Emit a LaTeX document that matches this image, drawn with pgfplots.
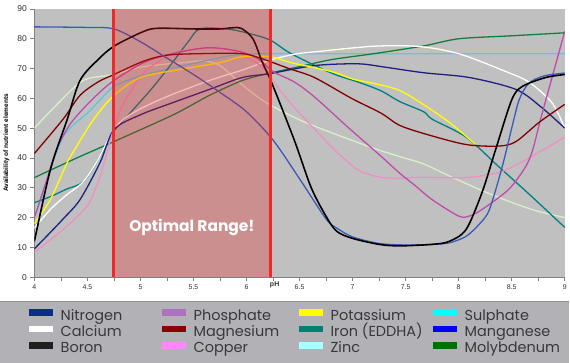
\documentclass[border=0pt]{standalone}
\usepackage{fontspec}
\setmainfont{Liberation Sans}
\newfontfamily\poppins{Poppins}
\usepackage{pgfplots}
\pgfplotsset{compat=1.18}
\definecolor{plotgray}{HTML}{C0C0C0}
\definecolor{overlayred}{HTML}{E82020}
\definecolor{redline}{HTML}{F02828}
\definecolor{axisgray}{HTML}{808080}
\definecolor{legbg}{HTML}{B2B2B6}
\definecolor{legborder}{HTML}{909090}
\definecolor{legtext}{HTML}{383838}
\definecolor{ticktext}{HTML}{303030}
% line colours
\definecolor{cMn}{HTML}{3A5BB5}
\definecolor{cN}{HTML}{1F2080}
\definecolor{cCa}{HTML}{FFFFFF}
\definecolor{cB}{HTML}{000000}
\definecolor{cP}{HTML}{C04CAA}
\definecolor{cMg}{HTML}{800000}
\definecolor{cCu}{HTML}{F090C0}
\definecolor{cK}{HTML}{FFFF00}
\definecolor{cFe}{HTML}{008080}
\definecolor{cZn}{HTML}{D8F0C8}
\definecolor{cS}{HTML}{60C8DC}
\definecolor{cMo}{HTML}{108040}
% legend colours
\definecolor{lN}{HTML}{0A2D8C}
\definecolor{lCa}{HTML}{FFFFFF}
\definecolor{lB}{HTML}{202020}
\definecolor{lP}{HTML}{B070C0}
\definecolor{lMg}{HTML}{8B0000}
\definecolor{lCu}{HTML}{FF88FF}
\definecolor{lK}{HTML}{FFFF00}
\definecolor{lFe}{HTML}{008070}
\definecolor{lZn}{HTML}{AAFFFF}
\definecolor{lS}{HTML}{00FFFF}
\definecolor{lMn}{HTML}{0000FF}
\definecolor{lMo}{HTML}{007000}
\newcommand{\legtxt}[2]{\makebox[#1][l]{\rule[-4.5bp]{0pt}{17.5bp}\hspace{8bp}\smash{#2}}}
\begin{document}
\begin{tikzpicture}
\fill[white] (0,0) rectangle (570bp,364bp);
\fill[legbg] (0,0) rectangle (570bp,62bp);
\draw[legborder, line width=1bp] (0,61.5bp) -- (570bp,61.5bp);
\begin{axis}[
  at={(34bp,86bp)}, anchor=south west,
  scale only axis, width=532bp, height=269bp,
  xmin=4, xmax=9, ymin=0, ymax=90,
  axis lines*=left,
  axis line style={draw=axisgray, line width=0.8bp},
  axis background/.style={fill=plotgray},
  xtick={4,4.5,...,9}, minor xtick={4.25,4.75,...,8.75},
  ytick={0,10,...,90},
  tick align=outside,
  major tick length=4bp, minor tick length=4bp,
  tick style={draw=axisgray, line width=0.6bp},
  /pgf/number format/assume math mode=true,
  xticklabel style={font=\fontsize{7bp}{8bp}\selectfont, text=ticktext},
  yticklabel style={font=\fontsize{8.5bp}{10bp}\selectfont, text=ticktext},
  xlabel={pH}, ylabel={Availability of nutrient elements},
  every axis x label/.style={at={(axis description cs:0.453,-0.03)}, anchor=center, font=\bfseries\fontsize{7bp}{8bp}\selectfont, text=ticktext},
  every axis y label/.style={at={(axis description cs:-0.0526,0.5)}, rotate=90, anchor=center, font=\bfseries\fontsize{6.5bp}{8bp}\selectfont, text=black},
  ln/.style={smooth, tension=0.5, line width=1.3bp, forget plot},
  legend columns=4,
  legend cell align=left,
  legend image code/.code={\fill[#1] (0bp,-0.6bp) rectangle (23bp,4.6bp);},
  legend style={draw=none, fill=none, inner sep=0pt, outer sep=0pt,
    row sep=2bp,
    nodes={inner sep=0pt},
    font=\poppins\fontsize{14.5bp}{17bp}\selectfont, text=legtext,
    at={(axis description cs:-0.0094,-0.1115)}, anchor=north west},
]
% Zinc (pale green)
\addplot[ln, cZn] coordinates {(4,50)(4.2,57.5)(4.46,66)(4.75,68)(5.0,70.5)(5.4,72)(5.6,72.5)(5.75,71)(5.96,64.5)(6.19,58.5)(6.55,52)(7.14,44)(7.44,40.5)(7.67,38)(7.91,34)(8.29,28)(8.69,22.7)(9,20)};
% Sulphate (cyan)
\addplot[ln, cS] coordinates {(4,20)(4.08,28)(4.15,36)(4.27,47)(4.38,51.5)(4.5,55)(4.62,59.5)(4.75,64)(5.0,67.5)(5.28,70)(5.6,72.5)(5.9,74.6)(6.25,75)(6.8,75)(7.5,75)(8.2,75)(9,75)};
% Molybdenum (green)
\addplot[ln, cMo] coordinates {(4,33.4)(4.4,40)(4.75,45.5)(5.31,54.5)(5.65,61)(5.96,66)(6.2,68.3)(6.48,70.5)(6.8,73)(7.2,75)(7.67,77.6)(8.0,80)(8.5,81)(9,82)};
% Iron (teal)
\addplot[ln, cFe] coordinates {(4,25)(4.15,27)(4.3,29.5)(4.46,32)(4.6,39.5)(4.75,49)(4.9,55)(5.1,63)(5.28,71)(5.45,79)(5.56,83.3)(5.81,83.3)(6.0,82)(6.22,79.6)(6.42,75)(6.8,68.5)(7.05,65.5)(7.27,62.5)(7.44,59)(7.67,55.5)(7.75,53)(8.07,47)(8.38,37)(8.69,27)(9,16.7)};
% Calcium (white)
\addplot[ln, cCa] coordinates {(4,16.5)(4.15,22.7)(4.3,27.5)(4.46,32)(4.6,39.5)(4.75,49.5)(4.9,54.5)(5.21,60)(5.65,66)(5.96,69.5)(6.22,72.8)(6.45,74.8)(6.64,75.6)(7.2,77.5)(7.63,77.4)(8.0,75)(8.41,69.5)(8.66,65.5)(8.88,58.5)(9,50)};
% Nitrogen (navy)
\addplot[ln, cN] coordinates {(4,9.5)(4.15,15)(4.27,19.5)(4.43,26)(4.62,38.5)(4.75,49.5)(5.0,54.5)(5.3,58.5)(5.65,63)(5.96,67)(6.22,68.3)(6.64,71)(7.05,71.6)(7.3,70.5)(7.67,68.6)(8.1,67)(8.54,63)(8.78,57)(9,50)};
% Copper (pink)
\addplot[ln, cCu] coordinates {(4,8.3)(4.27,16)(4.5,24)(4.62,34)(4.75,50)(4.85,59)(5.03,68.5)(5.2,73)(5.34,75.5)(5.55,76.5)(5.75,76.5)(5.9,75.5)(6.15,70.5)(6.31,63)(6.45,57)(6.58,52)(6.7,47.5)(6.85,42)(7.05,36)(7.2,34)(7.37,33.2)(7.67,33.5)(8.07,33.4)(8.3,34.5)(8.45,36)(8.69,40.5)(9,47)};
% Potassium (yellow)
\addplot[ln, cK] coordinates {(4,18)(4.15,26)(4.31,38.5)(4.4,44)(4.56,53)(4.75,61)(5.0,67)(5.34,69.5)(5.75,72)(5.96,74)(6.22,74)(6.42,72)(6.8,69)(7.0,66.5)(7.2,65)(7.42,63)(7.6,59.5)(7.91,52)(8.16,44.5)};
% Phosphate (magenta)
\addplot[ln, cP] coordinates {(4,20)(4.12,33)(4.21,43)(4.33,51)(4.46,56.5)(4.6,61.5)(4.75,66)(5.03,72)(5.3,75)(5.63,77)(5.9,76)(6.1,73.5)(6.25,69)(6.45,65.5)(6.64,60.5)(6.95,50.5)(7.27,40.5)(7.44,35)(7.58,31)(7.75,26)(8.0,20.5)(8.1,20.5)(8.22,22.7)(8.47,29.4)(8.63,37)(8.7,43)(8.78,54)(9,82.5)};
% Magnesium (dark red)
\addplot[ln, cMg] coordinates {(4,41.5)(4.27,53)(4.43,61)(4.6,65.5)(4.75,68)(5.03,72.5)(5.25,74.5)(5.56,75)(5.96,75)(6.17,73)(6.4,70)(6.64,67)(6.99,60)(7.27,55)(7.44,51)(7.69,48)(8.07,44.5)(8.38,44)(8.54,45.5)(8.76,52)(9,58)};
% Manganese (blue)
\addplot[ln, cMn] coordinates {(4,84)(4.5,83.8)(4.75,83.3)(5.0,79)(5.25,73.5)(5.5,68)(5.75,62)(6.0,55.5)(6.25,46)(6.5,33)(6.75,19.5)(6.85,16.5)(7.0,13.5)(7.25,11.3)(7.5,10.8)(7.75,11)(7.91,11.5)(8.07,13.7)(8.2,18)(8.29,22.7)(8.41,37)(8.5,50)(8.57,59.5)(8.66,65)(8.8,67.5)(9,68.5)};
% Boron (black)
\addplot[ln, cB, line width=1.6bp] coordinates {(4,12)(4.15,36)(4.31,53)(4.43,66)(4.6,73)(4.75,77.5)(5.0,82)(5.15,83.5)(5.5,83.3)(5.75,83.3)(5.87,83.7)(5.95,83.5)(6.06,80)(6.15,72)(6.24,65)(6.45,46)(6.61,30)(6.75,20.4)(6.85,15.4)(7.0,13)(7.25,11)(7.44,10.5)(7.75,11)(7.91,12)(8.07,16)(8.22,28.4)(8.35,43)(8.5,59.5)(8.6,64)(8.82,67)(9,68)};
% optimal range overlay
\addplot[draw=none, fill=overlayred, fill opacity=0.3, forget plot] coordinates {(4.745,90)(6.225,90)} \closedcycle;
\addplot[draw=redline, line width=3bp, forget plot] coordinates {(4.745,0)(4.745,90)};
\addplot[draw=redline, line width=3bp, forget plot] coordinates {(6.225,0)(6.225,90)};
\node[text=white, font=\poppins\bfseries\fontsize{15.5bp}{18bp}\selectfont] at (axis cs:5.485,16.7) {Optimal Range!};
% legend
\addlegendimage{lN}\addlegendentry{\legtxt{110bp}{Nitrogen}}
\addlegendimage{lP}\addlegendentry{\legtxt{114bp}{Phosphate}}
\addlegendimage{lK}\addlegendentry{\legtxt{111bp}{Potassium}}
\addlegendimage{lS}\addlegendentry{\legtxt{100bp}{Sulphate}}
\addlegendimage{lCa}\addlegendentry{\legtxt{110bp}{Calcium}}
\addlegendimage{lMg}\addlegendentry{\legtxt{114bp}{Magnesium}}
\addlegendimage{lFe}\addlegendentry{\legtxt{111bp}{Iron (EDDHA)}}
\addlegendimage{lMn}\addlegendentry{\legtxt{100bp}{Manganese}}
\addlegendimage{lB}\addlegendentry{\legtxt{110bp}{Boron}}
\addlegendimage{lCu}\addlegendentry{\legtxt{114bp}{Copper}}
\addlegendimage{lZn}\addlegendentry{\legtxt{111bp}{Zinc}}
\addlegendimage{lMo}\addlegendentry{\legtxt{100bp}{Molybdenum}}
\end{axis}
\end{tikzpicture}
\end{document}
